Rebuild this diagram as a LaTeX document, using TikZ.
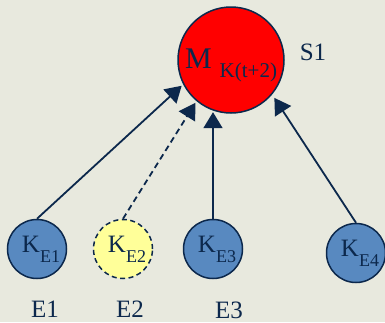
\documentclass[tikz,border=0pt]{standalone}
\usepackage{fontspec}
\setmainfont{Liberation Serif}
\usetikzlibrary{arrows.meta}
\definecolor{bg}{RGB}{232,233,222}
\definecolor{navy}{RGB}{12,40,76}
\definecolor{kblue}{RGB}{88,137,192}
\definecolor{kyellow}{RGB}{255,255,153}
\newcommand{\kl}[1]{\kern8pt K\raisebox{-10pt}{\fontsize{18}{18}\selectfont #1}}
\tikzset{
  big/.style={circle,draw=navy,line width=1.5pt,fill=red,minimum size=106pt,inner sep=0pt,
    text=navy,font=\fontsize{30}{30}\selectfont,text height=26pt,text depth=10pt},
  small/.style={circle,draw=navy,line width=1.5pt,fill=kblue,minimum size=59pt,inner sep=0pt,
    text=navy,font=\fontsize{25}{25}\selectfont,text height=14pt,text depth=8pt},
  lab/.style={text=navy,font=\fontsize{25}{25}\selectfont,anchor=base,inner sep=0pt},
  conn/.style={draw=navy,line width=1.8pt,shorten >=2pt,-{Triangle[length=16pt,width=19pt]}}
}
\begin{document}
\begin{tikzpicture}[x=1pt,y=-1pt]
\fill[bg] (0,0) rectangle (385,322);
\useasboundingbox (0,0) rectangle (385,322);
\node[big] (M) at (231,60) {M\hspace{8pt}\raisebox{-9pt}{\fontsize{21}{21}\selectfont K(t+2)}};
\node[small] (E1) at (37,249) {\kl{E1}};
\node[small,fill=kyellow,dashed,dash pattern=on 5pt off 3.5pt] (E2) at (123,249) {\kl{E2}};
\node[small] (E3) at (213,249) {\kl{E3}};
\node[small] (E4) at (356,253) {\kl{E4}};
\node[lab] (S1) at (313,60) {S1};
\node[lab] (L1) at (45,317) {E1};
\node[lab] (L2) at (130,317) {E2};
\node[lab] (L3) at (229,318) {E3};
\draw[conn] (E1.north) -- (M.207);
\draw[conn,dash pattern=on 6pt off 4pt] (E2.north) -- (M.230);
\draw[conn] (E3.north) -- (E3.north |- M.249);
\draw[conn,shorten >=4pt] (E4.north) -- (M.320);
\end{tikzpicture}
\end{document}
